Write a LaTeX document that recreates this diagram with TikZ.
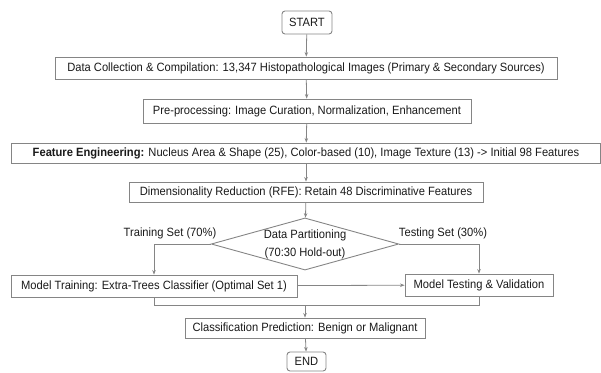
\documentclass[tikz,border=0pt]{standalone}
\usepackage{fontspec}
\setmainfont[FakeStretch=0.93]{Liberation Sans}
\usetikzlibrary{shapes.geometric,arrows.meta}
\definecolor{linegray}{HTML}{858585}
\definecolor{textgray}{HTML}{1A1A1A}
\begin{document}
\begin{tikzpicture}[x=1pt, y=-1pt,
    font=\fontsize{12}{14}\selectfont, text=textgray,
    box/.style={draw=linegray, line width=0.9pt, inner sep=0pt, minimum height=22pt},
    terminal/.style={box, rounded corners=3pt},
    decision/.style={draw=linegray, line width=0.9pt, diamond, shape aspect=3.6, inner sep=0pt, align=center, font=\fontsize{12}{18}\selectfont},
    flow/.style={draw=linegray, line width=0.8pt, -{Stealth[length=4.5pt, width=3.5pt]}},
    link/.style={draw=linegray, line width=0.8pt}]
        \useasboundingbox (0,0) rectangle (601,372);

        % Start and main chain
        \node[terminal, minimum width=50pt, minimum height=23pt] (start) at (307,22.5) {START};
        \node[box, minimum width=502pt] (collect) at (306,68) {Data Collection \& Compilation: 13,347 Histopathological Images (Primary \& Secondary Sources)};
        \node[box, minimum width=328pt, minimum height=24pt] (prep) at (307,111) {Pre-processing: Image Curation, Normalization, Enhancement};
        \node[box, minimum width=589pt, minimum height=20pt] (feat) at (306,153) {\textbf{Feature Engineering:} Nucleus Area \& Shape (25), Color-based (10), Image Texture (13) -> Initial 98 Features};
        \node[box, minimum width=354pt, minimum height=20pt] (dimred) at (306,192) {Dimensionality Reduction (RFE): Retain 48 Discriminative Features};

        % Partitioning
        \node[decision, minimum width=184pt, minimum height=50pt] (part) at (305,244) {Data Partitioning\\(70:30 Hold-out)};
        \node (trainlbl) at (170,233) {Training Set (70\%)};
        \node (testlbl) at (443,233) {Testing Set (30\%)};

        % Training and testing
        \node[box, minimum width=286pt] (train) at (154,286) {Model Training: Extra-Trees Classifier (Optimal Set 1)};
        \node[box, minimum width=148pt] (test) at (479,285) {Model Testing \& Validation};

        % Prediction and end
        \node[box, minimum width=240pt, minimum height=20pt] (classify) at (305,328) {Classification Prediction: Benign or Malignant};
        \node[terminal, minimum width=39pt, minimum height=19pt] (end) at (306.5,361.5) {END};

        % Arrows
        \draw[flow] (start) -- (collect);
        \draw[flow] (collect) -- (prep);
        \draw[flow] (prep) -- (feat);
        \draw[flow] (feat) -- (dimred);
        \draw[flow] (dimred) -- (part);
        \draw[flow] (part.west) -| (train.north);
        \draw[flow] (part.east) -| (test.north);
        \draw[flow] (train) -- (test);
        \draw[link] (train.south) -- ++(0,8) coordinate (mergeL) -| (test.south);
        \coordinate (merge) at (classify.north |- mergeL);
        \draw[flow] (merge) -- (classify);
        \draw[flow] (classify) -- (end);
    \end{tikzpicture}
\end{document}
